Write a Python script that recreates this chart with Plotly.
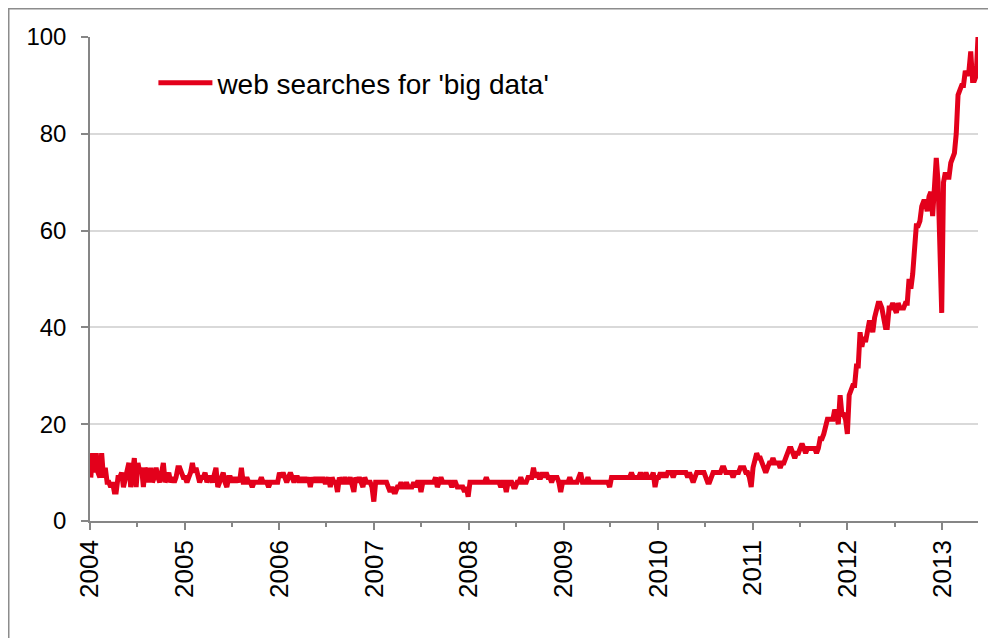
import pandas as pd
import plotly.graph_objects as go

# weekly Google-Trends style index, weeks starting 2004-01-04
v2004 = [9, 14, 10, 14, 10, 9, 14, 9, 11, 8, 8, 7, 8, 6, 6, 9, 9, 10, 7, 9,
         11, 12, 7, 10, 13, 7, 12, 10, 11, 7, 11, 10, 8, 11, 8, 9, 11, 9, 8, 10,
         12, 8, 9, 10, 8, 9, 8, 9, 11, 11, 10, 9]
v2005 = [9, 8, 9, 10, 12, 10, 11, 9, 8, 9, 9, 10, 8, 9, 9, 8, 10, 11, 7, 8,
         9, 10, 8, 7, 9, 9, 8, 9, 8, 9, 8, 11, 8, 8, 9, 8, 8, 7, 8, 8,
         8, 8, 9, 8, 8, 8, 7, 8, 8, 8, 8, 8]
v2006 = [10, 9, 10, 9, 8, 9, 10, 9, 8, 9, 9, 8, 9, 8, 9, 8, 9, 7, 9, 8,
         9, 8, 9, 8, 9, 8, 8, 9, 7, 9, 8, 8, 6, 9, 8, 8, 9, 8, 8, 9,
         7, 6, 9, 8, 9, 8, 7, 9, 8, 8, 8, 7, 4]
v2007 = [8, 8, 8, 8, 8, 8, 8, 7, 6, 7, 6, 6, 7, 7, 8, 7, 7, 8, 7, 7,
         7, 8, 7, 8, 8, 6, 8, 8, 8, 8, 8, 8, 8, 9, 7, 8, 9, 8, 8, 8,
         8, 8, 7, 8, 8, 7, 7, 7, 7, 6, 7, 5]
v2008 = [8, 8, 8, 8, 8, 8, 8, 8, 8, 9, 8, 8, 8, 8, 8, 8, 8, 7, 8, 8,
         6, 8, 8, 8, 7, 7, 8, 8, 9, 8, 8, 8, 9, 9, 9, 11, 9, 10, 9, 9,
         10, 9, 10, 9, 9, 8, 9, 9, 9, 8, 6, 8]
v2009 = [8, 8, 8, 9, 8, 8, 8, 8, 9, 10, 8, 8, 8, 9, 8, 8, 8, 8, 8, 8,
         8, 8, 8, 8, 8, 7, 9, 9, 9, 9, 9, 9, 9, 9, 9, 9, 9, 10, 9, 9,
         9, 9, 10, 9, 9, 10, 9, 9, 9, 10, 7, 9]
v2010 = [9, 10, 9, 10, 9, 10, 10, 10, 9, 10, 10, 10, 10, 10, 10, 10, 9, 10, 9, 8,
         9, 10, 10, 10, 10, 10, 9, 8, 8, 9, 10, 10, 10, 10, 10, 11, 11, 10, 10, 10,
         10, 9, 10, 10, 10, 11, 11, 11, 10, 10, 9, 7]
v2011 = [11, 13, 14, 13, 13, 12, 11, 10, 11, 12, 12, 13, 12, 12, 12, 11, 12, 12, 13, 14,
         15, 15, 14, 13, 14, 14, 15, 16, 15, 14, 15, 15, 15, 15, 15, 14, 15, 17, 17, 18,
         20, 21, 21, 21, 21, 23, 22, 20, 26, 22, 22, 21]
v2012 = [18, 26, 27, 28, 28, 32, 32, 39, 36, 38, 37, 39, 41, 41, 39, 42, 44, 45, 45, 44,
         42, 40, 40, 44, 44, 45, 44, 43, 45, 44, 44, 44, 45, 45, 50, 48, 51, 55, 61, 61,
         62, 65, 66, 66, 64, 67, 68, 63, 68, 75, 70, 57, 43]
v2013 = [70, 72, 71, 71, 74, 75, 76, 80, 88, 89, 90, 90, 93, 92, 93, 97, 91, 91, 92, 100]

values = v2004 + v2005 + v2006 + v2007 + v2008 + v2009 + v2010 + v2011 + v2012 + v2013
weeks = pd.date_range("2004-01-04", periods=len(values), freq="7D")
series_name = "web searches for 'big data'"

FONT = "Arial, 'Liberation Sans', sans-serif"
AXIS_GRAY = "#868686"

# plot area in figure pixels
L, T, R, B = 82, 29, 26, 125
W, H = 996, 638
PW, PH = W - L - R, H - T - B

fig = go.Figure()
fig.add_trace(go.Scatter(
    x=weeks, y=values, mode="lines", name=series_name,
    line=dict(color="#E3001B", width=5),
    hoverinfo="skip",
))

fig.update_layout(
    width=W, height=H,
    margin=dict(l=L, r=R, t=T, b=B),
    paper_bgcolor="white", plot_bgcolor="white",
    font=dict(family=FONT, color="black", size=24),
    showlegend=True,
    legend=dict(x=0.0714, y=0.905, xanchor="left", yanchor="middle",
                bgcolor="rgba(0,0,0,0)", borderwidth=0,
                font=dict(size=28, family=FONT), itemwidth=54),
    shapes=[dict(type="rect", xref="paper", yref="paper",
                 x0=(0.75 - L) / PW, x1=1.5, y0=-1.0, y1=(PH + T - 0.75) / PH,
                 line=dict(color="#8c8c8c", width=1.5), fillcolor="rgba(0,0,0,0)",
                 layer="below")],
)

fig.update_xaxes(
    type="date", range=["2004-01-01", weeks[-1]],
    tickmode="linear", tick0="2004-01-01", dtick="M12", tickformat="%Y",
    tickangle=-90, tickfont=dict(size=26, family=FONT),
    ticklabelstandoff=0,
    showgrid=False, zeroline=False,
    showline=True, linecolor=AXIS_GRAY, linewidth=1.5,
    ticks="outside", ticklen=7, tickcolor=AXIS_GRAY, tickwidth=1.5,
    minor=dict(dtick="M6", tick0="2004-01-01", ticks="outside", ticklen=4,
               tickcolor=AXIS_GRAY, tickwidth=1.5, showgrid=False),
)
fig.update_yaxes(
    range=[0, 100], dtick=20, tick0=0,
    tickfont=dict(size=24, family=FONT),
    showgrid=True, gridcolor="#d9d9d9", gridwidth=1.5,
    zeroline=False,
    showline=True, linecolor=AXIS_GRAY, linewidth=1.5,
    ticks="outside", ticklen=7, tickcolor=AXIS_GRAY, tickwidth=1.5,
    ticklabelstandoff=10,
)

fig.write_html("out.html")
